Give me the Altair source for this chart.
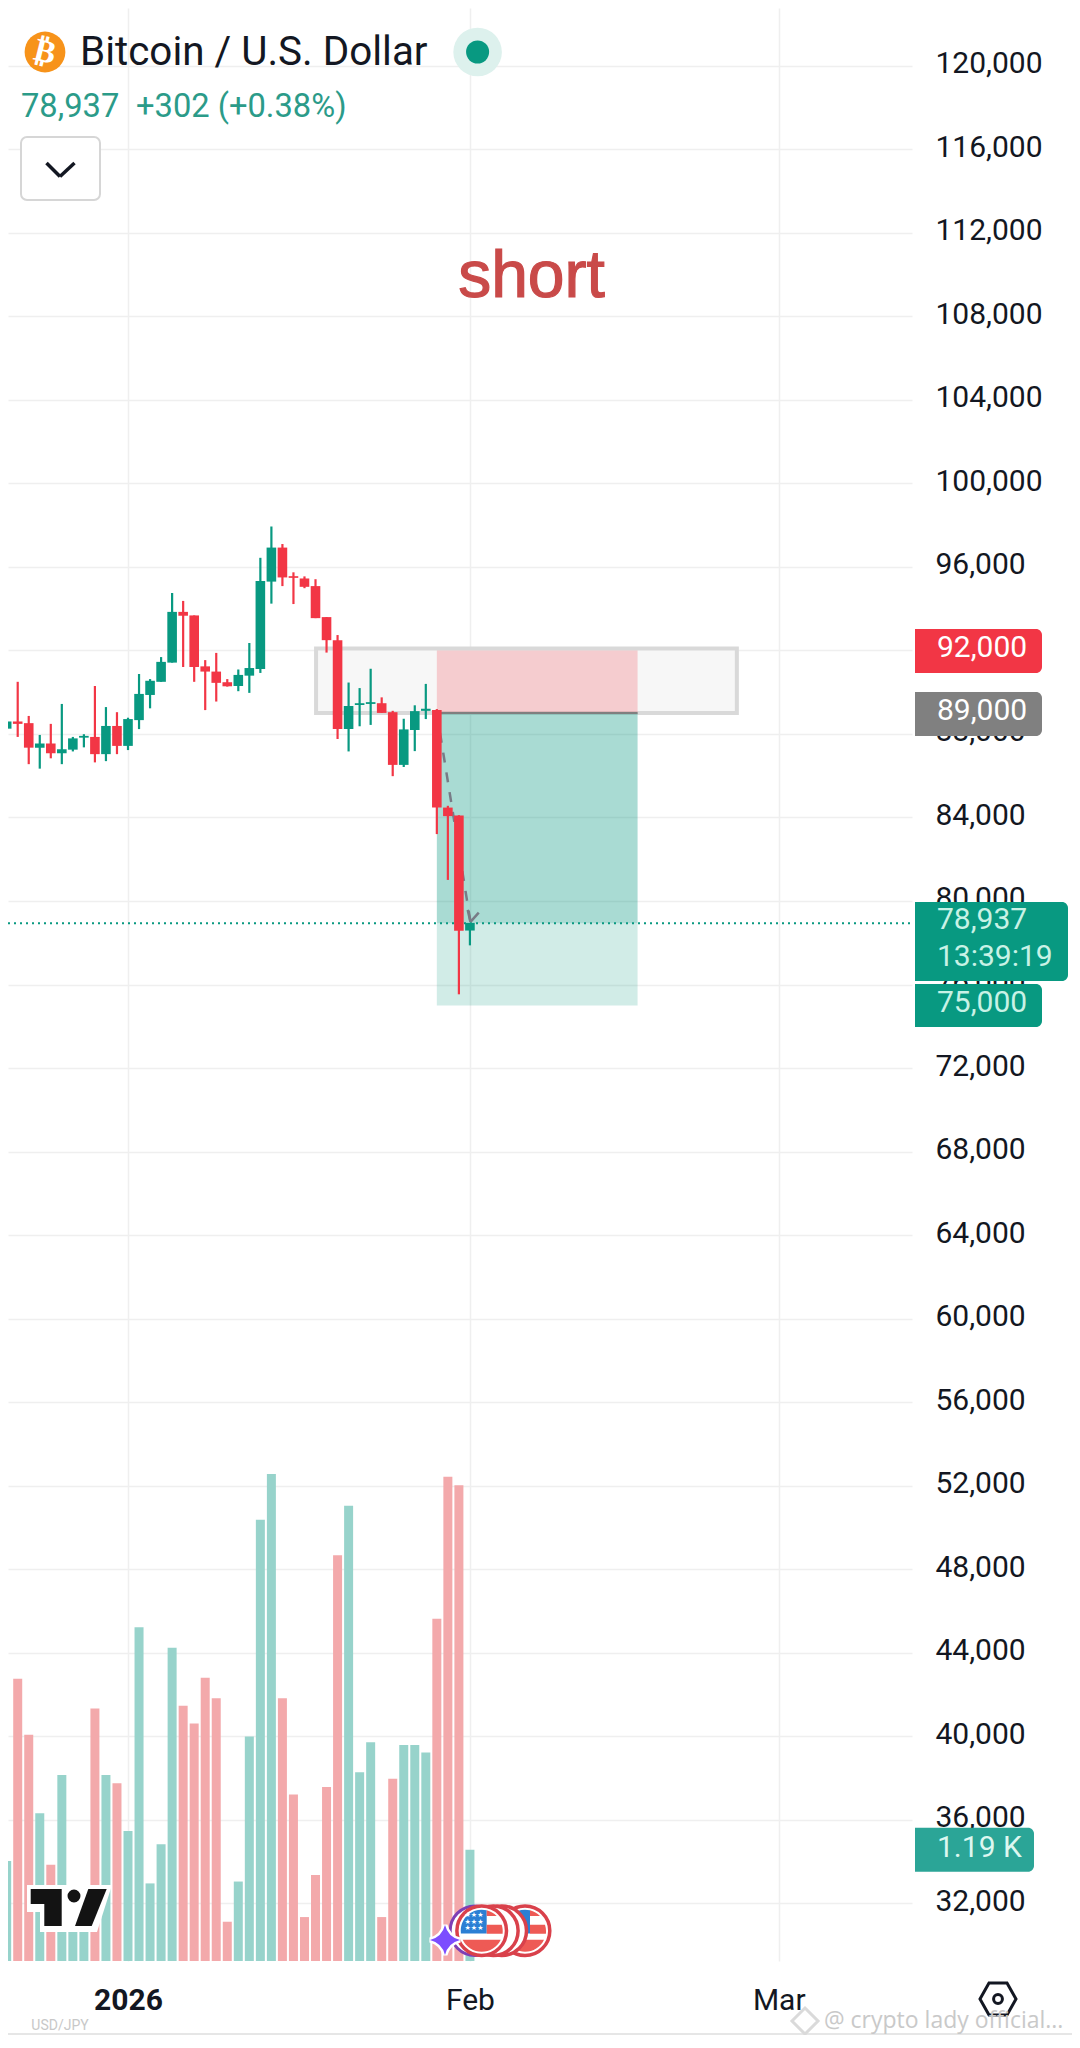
import altair as alt
import pandas as pd

# ---------- data ----------
days = list(range(-11, 32))
opens = [88255,88600,88520,87345,87545,87080,87250,87825,87860,87035,88385,87430,88665,89870,90500,91420,93850,93680,91240,90990,90480,90300,90795,91110,95300,96930,95560,95450,95085,93600,92495,88240,89390,89440,89475,89045,86520,88190,89110,89145,84475,84095,78585]
closes = [88600,88485,87345,87545,87080,87265,87790,87910,87035,88385,87430,88715,89920,90550,91455,93850,93665,91210,90990,90450,90285,90830,91160,95330,96930,95500,95480,95050,93550,92495,88240,89340,89475,89525,89010,86520,88220,89095,89210,84475,84065,78570,78950]
highs = [89010,90500,88865,87955,88485,89440,87860,87990,90300,89290,89045,88780,90875,90630,91685,94755,94375,93680,91540,91885,90630,91090,92360,96440,97940,97100,95745,95550,95415,93600,92740,90465,90200,91125,89755,89110,88730,89375,90400,89195,84560,84110,78950]
lows = [87580,87860,86555,86340,86835,86555,87165,87360,86640,86700,87035,87230,88235,89230,90500,91420,91210,90500,89145,89555,90270,90050,89970,90925,94245,95085,94225,94985,93550,91900,87760,87165,88370,88435,89010,85980,86420,87180,88715,83205,81010,75530,77875]
volumes = [1.07,3.02,2.42,1.58,1.03,1.99,0.68,0.59,2.70,1.99,1.90,1.39,3.57,0.83,1.25,3.35,2.73,2.54,3.03,2.81,0.42,0.85,2.40,4.72,5.21,2.81,1.78,0.47,0.92,1.86,4.34,4.87,2.02,2.34,0.47,1.95,2.31,2.31,2.23,3.66,5.18,5.09,1.19]

y_ticks = list(range(32000, 120001, 4000))
x_ticks = [0, 31, 59]
last_price = 78937
entry, stop, target = 89000, 92000, 75000
box_left, box_right = 28.0, 46.2
zone_left, zone_right, zone_top, zone_bottom = 17.05, 55.2, 92090, 89010
path_days = [28.0, 31.05]
path_prices = [89000, 79000]

GREEN, RED = "#089981", "#F23645"
MINT = "#C8F2E6"
FONT = "Roboto"

df = pd.DataFrame({"day": days, "open": opens, "close": closes, "high": highs, "low": lows, "vol": volumes})
df["dir"] = ["up" if c >= o else "down" for o, c in zip(opens, closes)]
colour = alt.Color("dir:N", scale=alt.Scale(domain=["up", "down"], range=[GREEN, RED]), legend=None)
vol_colour = alt.Fill("dir:N", scale=alt.Scale(domain=["up", "down"], range=["#94D2C9", "#F3A6A8"]), legend=None)

xscale = alt.Scale(domain=[-10.88, 71.08], nice=False, zero=False, padding=0)
yscale = alt.Scale(domain=[29222, 122778], nice=False, zero=False)
vscale = alt.Scale(domain=[0, 20.89], nice=False)
x_axis = alt.Axis(
    values=x_ticks, grid=True, gridColor="#EFEFEF", gridWidth=1.5, ticks=False, domain=False, title=None,
    labelFont=FONT, labelFontSize=30, labelColor="#131722", labelPadding=24, labelOverlap=False,
    labelFlush=False, labelExpr="datum.value==0?'2026':datum.value==31?'Feb':'Mar'",
    labelFontWeight={"condition": {"test": "datum.value==0", "value": "bold"}, "value": "normal"})
y_axis = alt.Axis(
    orient="right", values=y_ticks, grid=True, gridColor="#EFEFEF", gridWidth=1.5, title=None,
    ticks=False, domain=False, labelFont=FONT, labelFontSize=30, labelColor="#131722",
    labelPadding=23, labelOverlap=False, labelFlush=False, labelAlign="left", labelBaseline="middle",
    labelOffset=-2, labelExpr="format(datum.value, ',')")
X = lambda f: alt.X(f, scale=xscale, axis=x_axis)
Y = lambda f: alt.Y(f, scale=yscale, axis=y_axis)
one = pd.DataFrame({"k": [0]})

def px(v): return alt.value(v - 8)
def py(v): return alt.value(v - 8)
def text(s, x, y, **kw):
    return alt.Chart(one).mark_text(text=s, **kw).encode(x=px(x), y=py(y))
def seg(x1, y1, x2, y2, **kw):
    return alt.Chart(one).mark_rule(**kw).encode(x=px(x1), x2=px(x2), y=py(y1), y2=py(y2))
def box(x1, y1, x2, y2, **kw):
    return alt.Chart(one).mark_rect(**kw).encode(x=px(x1), x2=px(x2), y=py(y1), y2=py(y2))
def dot(x, y, r, **kw):
    kw.setdefault("opacity", 1)
    return alt.Chart(one).mark_circle(size=3.14159 * r * r, **kw).encode(x=px(x), y=py(y))
def shape(path, x, y, **kw):
    kw.setdefault("opacity", 1)
    return alt.Chart(one).mark_point(shape=path, size=4, **kw).encode(x=px(x), y=py(y))

# ---------- volume pane ----------
vol_bars = alt.Chart(df).mark_bar(size=9, opacity=0.97).encode(
    x=X("day:Q"), y=alt.Y("vol:Q", scale=vscale, axis=None), fill=vol_colour)
vtag = pd.DataFrame({"top": [1.425], "bottom": [0.955], "v": [1.19]})
vol_tag = alt.Chart(vtag).mark_bar(color="#2BA597", cornerRadiusTopRight=6, cornerRadiusBottomRight=6).encode(
    x=px(915), x2=px(1034), y=alt.Y("top:Q", scale=vscale, axis=None), y2="bottom:Q")
vol_txt = alt.Chart(vtag).mark_text(text="1.19 K", font=FONT, fontSize=30, color="#DDF7F0", align="left", dy=-2).encode(
    x=px(937), y=alt.Y("v:Q", scale=vscale, axis=None))
vol_group = alt.layer(vol_bars, vol_tag, vol_txt)

# ---------- price pane ----------
zone = alt.Chart(pd.DataFrame({"a": [zone_left], "b": [zone_right], "t": [zone_top], "u": [zone_bottom]})).mark_rect(
    fill="#F7F7F7", stroke="#D9D9D9", strokeWidth=4).encode(x=X("a:Q"), x2="b:Q", y=Y("t:Q"), y2="u:Q")

pos = pd.DataFrame({"a": [box_left] * 3, "b": [box_right] * 3,
                    "t": [stop, entry, last_price], "u": [entry, last_price, target],
                    "c": ["#F23645", "#089981", "#089981"], "o": [0.22, 0.35, 0.19]})
position = alt.Chart(pos).mark_rect().encode(
    x=X("a:Q"), x2="b:Q", y=Y("t:Q"), y2="u:Q",
    fill=alt.Fill("c:N", scale=None), opacity=alt.Opacity("o:Q", scale=None))
entry_line = alt.Chart(pd.DataFrame({"a": [box_left], "b": [box_right], "p": [entry]})).mark_rule(
    color="#7F7F7F", strokeWidth=2).encode(x=X("a:Q"), x2="b:Q", y=Y("p:Q"))

price_line = alt.Chart(pd.DataFrame({"a": [-10.88], "b": [71.08], "p": [last_price]})).mark_rule(
    color=GREEN, strokeWidth=2, strokeDash=[2, 4]).encode(x=X("a:Q"), x2="b:Q", y=Y("p:Q"))

arrow = alt.Chart(pd.DataFrame({"d": path_days, "p": path_prices})).mark_line(
    color="#787B86", strokeWidth=2.5, strokeDash=[10, 10]).encode(x=X("d:Q"), y=Y("p:Q"))
arms = alt.Chart(pd.DataFrame({"a": [31.05, 31.05], "b": [31.8, 30.8], "t": [79000, 79000], "u": [79440, 79575]})).mark_rule(
    color="#787B86", strokeWidth=2.5).encode(x=X("a:Q"), x2="b:Q", y=Y("t:Q"), y2="u:Q")

wicks = alt.Chart(df).mark_rule(strokeWidth=2.2).encode(x=X("day:Q"), y=Y("high:Q"), y2="low:Q", color=colour)
bodies = alt.Chart(df).mark_bar(size=9.6, orient="vertical").encode(x=X("day:Q"), y=Y("open:Q"), y2="close:Q", color=colour)

tags = pd.DataFrame({"top": [93030, 90012, 76024], "bottom": [90922, 87904, 73964], "c": [RED, "#808080", GREEN]})
tag_bars = alt.Chart(tags).mark_bar(cornerRadiusTopRight=6, cornerRadiusBottomRight=6).encode(
    x=px(915), x2=px(1042), y=Y("top:Q"), y2="bottom:Q", fill=alt.Fill("c:N", scale=None))
big_tag = alt.Chart(pd.DataFrame({"top": [79952], "bottom": [76168]})).mark_bar(
    cornerRadiusTopRight=6, cornerRadiusBottomRight=6, color=GREEN).encode(
    x=px(915), x2=px(1068), y=Y("top:Q"), y2="bottom:Q")
tag_txt = pd.DataFrame({"t": ["92,000", "89,000", "75,000"], "p": [stop, entry, target], "c": ["#FFFFFF", "#FFFFFF", MINT]})
tag_labels = alt.Chart(tag_txt).mark_text(font=FONT, fontSize=30, align="left", dy=-2).encode(
    x=px(937), y=Y("p:Q"), text="t:N", color=alt.Color("c:N", scale=None))
last_lab = alt.Chart(pd.DataFrame({"p": [last_price]})).mark_text(
    text="78,937", font=FONT, fontSize=30, align="left", color=MINT, dy=-3).encode(x=px(937), y=Y("p:Q"))
count_lab = alt.Chart(pd.DataFrame({"p": [last_price]})).mark_text(
    text="13:39:19", font=FONT, fontSize=30, align="left", color=MINT, dy=34).encode(x=px(937), y=Y("p:Q"))

# ---------- header ----------
header = [
    dot(45, 52, 23, color="#F7931A"),
    text("₿", 45, 52, font="DejaVu Sans", fontSize=32, fontWeight="bold", color="#FFFFFF", angle=14),
    text("Bitcoin / U.S. Dollar", 80, 65, font=FONT, fontSize=40.4, color="#131722", align="left", baseline="alphabetic"),
    dot(477.6, 52, 27.4, color="#DDF1ED"),
    dot(477.6, 52, 13, color=GREEN),
    text("78,937", 21, 116.5, font=FONT, fontSize=32.7, color="#2B9B89", align="left", baseline="alphabetic"),
    text("+302 (+0.38%)", 136, 116.5, font=FONT, fontSize=32.7, color="#2B9B89", align="left", baseline="alphabetic"),
    box(21, 137, 100, 200, fill="#FFFFFF", stroke="#D6D6D6", strokeWidth=2, cornerRadius=6),
    seg(46.5, 163, 60, 176.5, color="#131722", strokeWidth=3.5),
    seg(60, 176.5, 74.5, 163, color="#131722", strokeWidth=3.5),
    text("short", 531.5, 297, font="Liberation Sans", fontSize=66, color="#C94A49", stroke="#C94A49", strokeWidth=1.2, baseline="alphabetic"),
]

# ---------- overlays ----------
CANTON = "M5 -20.4 L5 2.7 L-20.8 2.7 A21 21 0 0 1 5 -20.4 Z"
STRIPES = ("M5 -20.4 A21 21 0 0 1 15 -14.7 L5 -14.7 Z "
           "M5 -6 L20 -6 A21 21 0 0 1 20.9 3 L5 3 Z "
           "M-19 9 L19 9 A21 21 0 0 1 -19 9 Z")
STAR4 = "M0 -15 Q3 -3 15 0 Q3 3 0 15 Q-3 3 -15 0 Q-3 -3 0 -15 Z"
COIN = dict(fill="#FFFFFF", stroke="#D9414B", strokeWidth=3.5)
TV_HALO = "M-43 -23 L42 -23 L27 24 L-30 24 L-30 4 L-43 4 Z"
TV_T = "M-39.3 -19 L-8.3 -19 L-8.3 18 L-25.7 18 L-25.7 -4 L-39.3 -4 Z"
TV_S = "M18.3 -19 L36.7 -19 L21.7 18 L5 18 Z"
HEX = "M-18 0 L-9 -16 L9 -16 L18 0 L9 16 L-9 16 Z"
overlays = [
    shape(TV_HALO, 70, 1908, filled=True, fill="#FFFFFF"),
    shape(TV_T, 70, 1908, filled=True, fill="#131313"),
    shape(TV_S, 70, 1908, filled=True, fill="#131313"),
    dot(74, 1896, 7.3, color="#131313"),
    alt.Chart(one).mark_circle(size=2463, fill="#FFFFFF", stroke="#7E3FB5", strokeWidth=3, opacity=1).encode(x=px(475), y=py(1930.7)),
    dot(525, 1930.7, 28, **COIN),
    shape(CANTON, 525, 1930.7, filled=True, fill="#2B7FD4"),
    shape(STRIPES, 525, 1930.7, filled=True, fill="#EE5A55"),
    dot(501.7, 1930.7, 28, **COIN),
    dot(493.3, 1930.7, 28, **COIN),
    dot(481.7, 1930.7, 28, **COIN),
    shape(CANTON, 481.7, 1930.7, filled=True, fill="#2B7FD4"),
    shape(STRIPES, 481.7, 1930.7, filled=True, fill="#EE5A55"),
    text("★★★", 474, 1915, font="DejaVu Sans", fontSize=7, color="#FFFFFF"),
    text("★★★", 474, 1921.5, font="DejaVu Sans", fontSize=7, color="#FFFFFF"),
    text("★★★", 474, 1928, font="DejaVu Sans", fontSize=7, color="#FFFFFF"),
    shape(STAR4, 445, 1940, filled=False, stroke="#FFFFFF", strokeWidth=5),
    shape(STAR4, 445, 1940, filled=True, fill="#7C4DFF"),
    shape(HEX, 998, 1999, filled=False, stroke="#131722", strokeWidth=3),
    alt.Chart(one).mark_circle(size=78, fill="#FFFFFF", stroke="#131722", strokeWidth=3, opacity=1).encode(x=px(998), y=py(1999)),
    seg(8, 2034, 1072, 2034, color="#E6E6E6", strokeWidth=2),
    text("USD/JPY", 60, 2026, font=FONT, fontSize=14, color="#C8C8C8"),
    shape("M0 -13 L13 0 L0 13 L-13 0 Z", 805, 2021, filled=False, stroke="#DADADA", strokeWidth=3),
    text("@ crypto lady official...", 824, 2028, font="Open Sans", fontSize=23, color="#C9C9C9", align="left", baseline="alphabetic"),
]

price_group = alt.layer(zone, position, entry_line, price_line, arrow, arms, wicks, bodies,
                        tag_bars, big_tag, tag_labels, last_lab, count_lab, *header, *overlays)

chart = (alt.layer(vol_group, price_group)
         .resolve_scale(y="independent")
         .properties(width=904, height=1953, background="#FFFFFF",
                     padding={"left": 0, "top": 0, "right": 160, "bottom": 74},
                     autosize=alt.AutoSizeParams(type="none"))
         .configure_view(stroke=None))

chart.save("out.html", embed_options={"renderer": "svg", "actions": False})
